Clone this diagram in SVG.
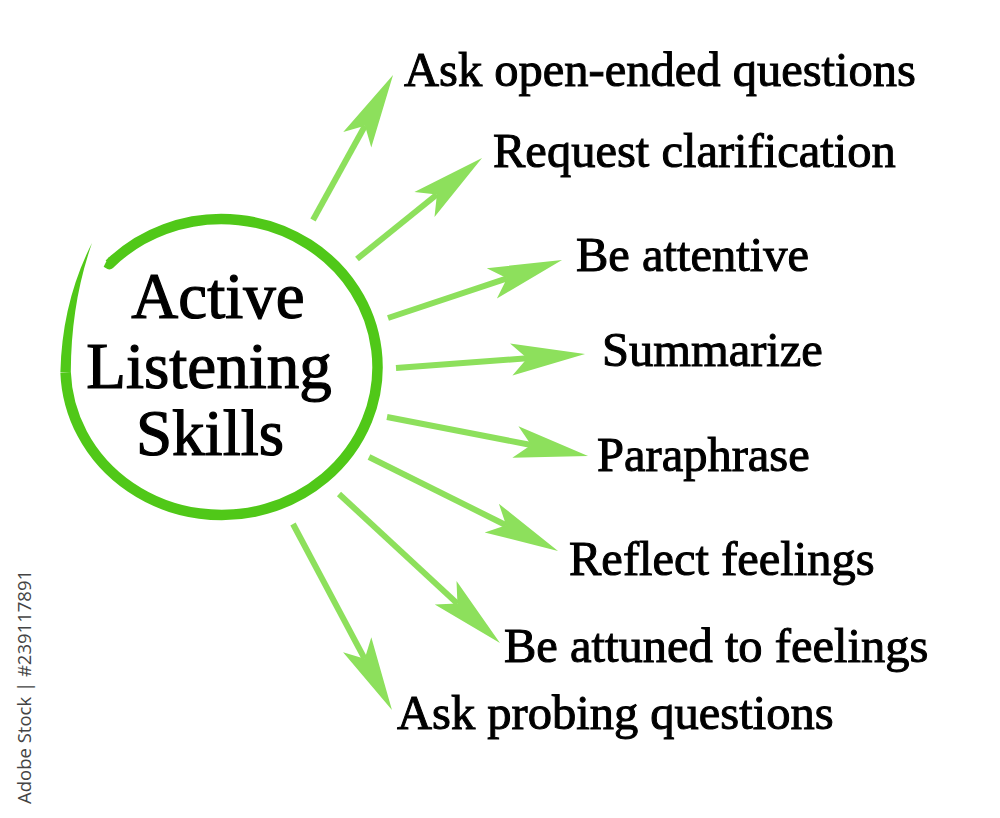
<svg xmlns="http://www.w3.org/2000/svg" width="1000" height="818" viewBox="0 0 1000 818">
<style>
.lbl{font-family:"Liberation Serif","Times New Roman",serif;font-size:48.5px;fill:#000;stroke:#000;stroke-width:1px}
.ctr{font-family:"Liberation Serif","Times New Roman",serif;font-size:65px;fill:#000;stroke:#000;stroke-width:1.2px;text-anchor:middle}
.arr{stroke:#8de05c;stroke-width:6;fill:none;stroke-linecap:butt;marker-end:url(#head)}
.wm{font-family:"Open Sans","DejaVu Sans",sans-serif;font-size:18.5px;fill:#444}
</style>
<defs>
<marker id="head" markerUnits="userSpaceOnUse" viewBox="-20 -20 80 40" markerWidth="80" markerHeight="40" refX="0" refY="0" orient="auto" overflow="visible">
<path d="M58,0 L-16,-16 L0,0 L-16,16 Z" fill="#8de05c"/>
</marker>
</defs>
<rect width="1000" height="818" fill="#fff"/>
<g id="connectors">
<line class="arr" x1="313" y1="220" x2="365.0" y2="125.8"/>
<line class="arr" x1="357" y1="259" x2="436.9" y2="194.5"/>
<line class="arr" x1="388" y1="318" x2="507.0" y2="278.3"/>
<line class="arr" x1="396" y1="368" x2="527.2" y2="358.3"/>
<line class="arr" x1="387" y1="417" x2="531.1" y2="445.0"/>
<line class="arr" x1="369" y1="457" x2="506.1" y2="525.2"/>
<line class="arr" x1="339" y1="494" x2="457.4" y2="603.6"/>
<line class="arr" x1="293" y1="524" x2="364.7" y2="658.8"/>
</g>
<g id="center">
<path d="M106,262 Q108,263 109.3,264.2 A156,148 0 1 1 65.6,372.2" fill="none" stroke="#50c818" stroke-width="10.5" stroke-linejoin="round"/>
<path d="M60.4,372 Q62,302 92,243 Q71,303 70.8,372 Z" fill="#50c818"/>
<text class="ctr" x="218" y="318">Active</text>
<text class="ctr" x="209" y="388">Listening</text>
<text class="ctr" x="210" y="455">Skills</text>
</g>
<g id="n1"><text class="lbl" x="404" y="86">Ask open-ended questions</text></g>
<g id="n2"><text class="lbl" x="493" y="167">Request clarification</text></g>
<g id="n3"><text class="lbl" x="576" y="271">Be attentive</text></g>
<g id="n4"><text class="lbl" x="602" y="366">Summarize</text></g>
<g id="n5"><text class="lbl" x="597" y="471">Paraphrase</text></g>
<g id="n6"><text class="lbl" x="569" y="575">Reflect feelings</text></g>
<g id="n7"><text class="lbl" x="504" y="662">Be attuned to feelings</text></g>
<g id="n8"><text class="lbl" x="397" y="729">Ask probing questions</text></g>
<text class="wm" transform="translate(31,804) rotate(-90)">Adobe Stock | #239117891</text>
</svg>
